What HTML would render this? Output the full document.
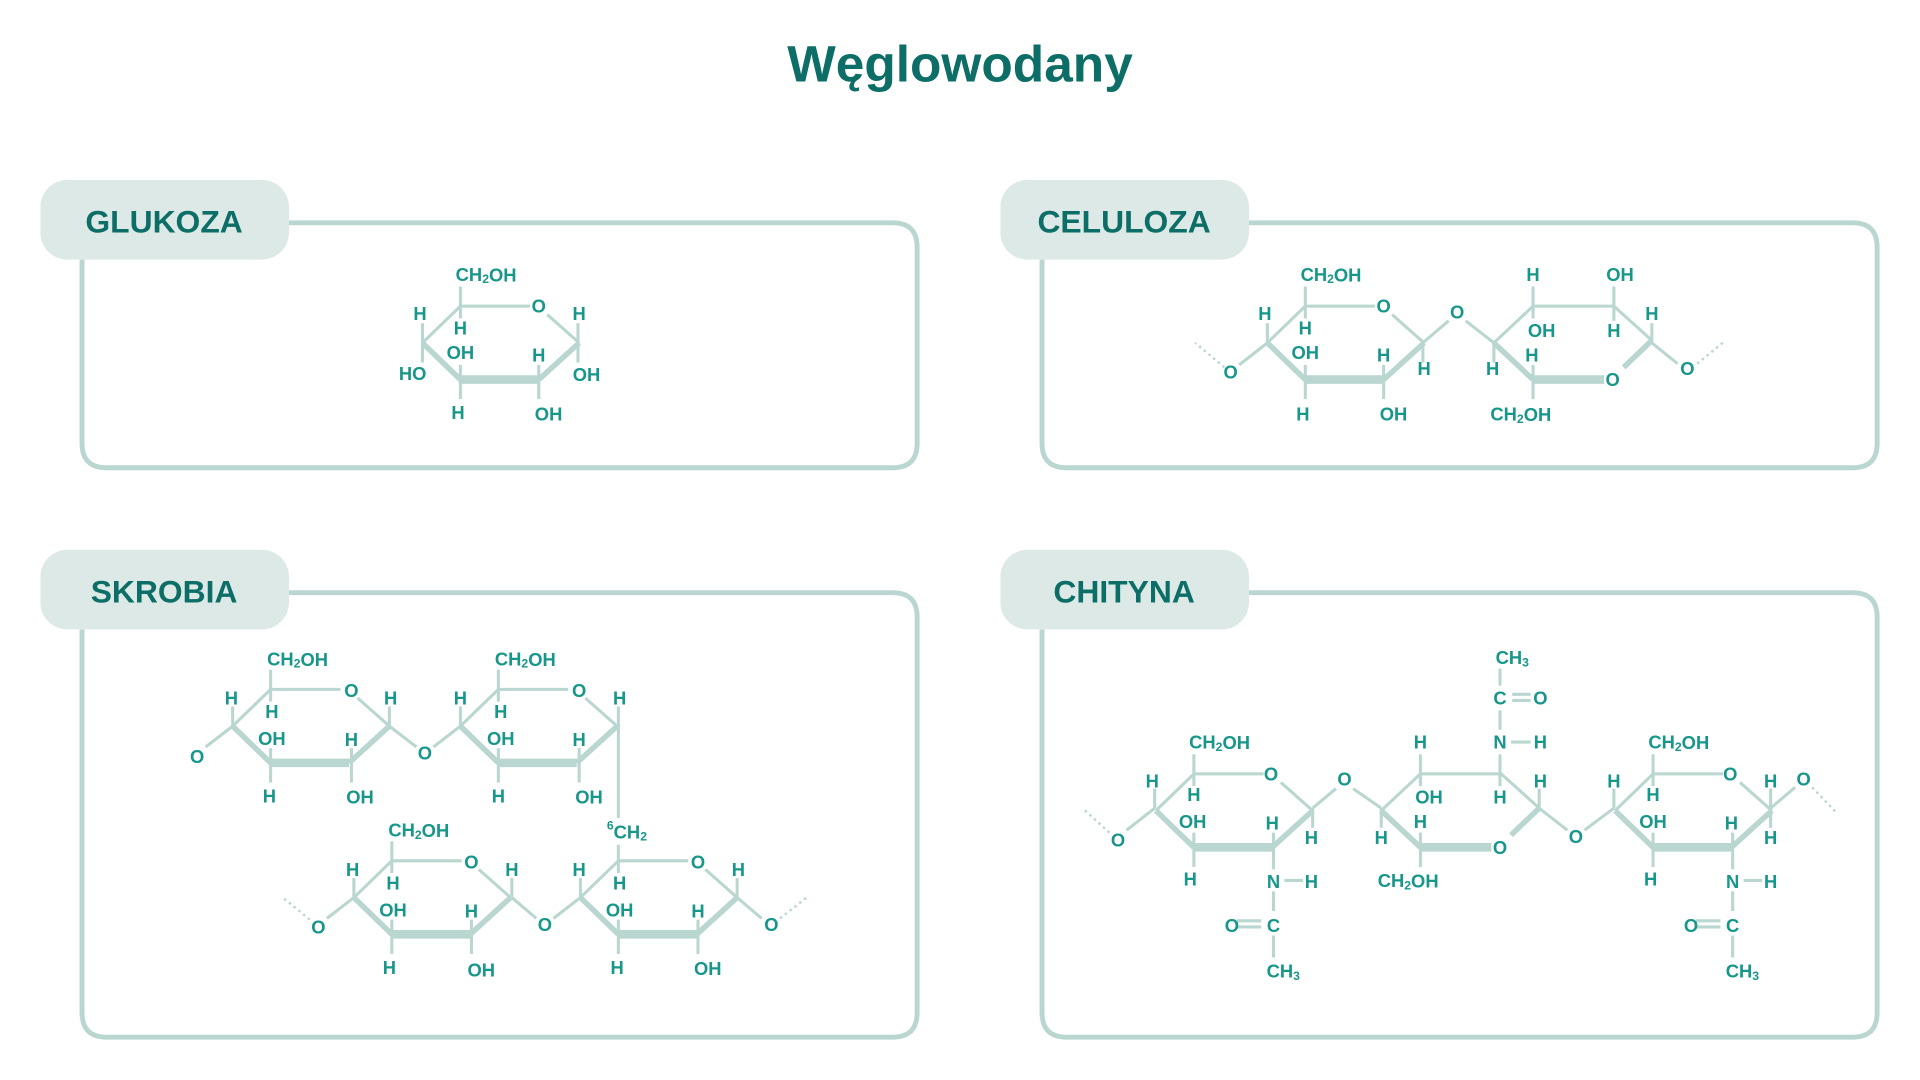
<!DOCTYPE html>
<html><head><meta charset="utf-8"><style>
html,body{margin:0;padding:0;background:#fff;}
svg{display:block;}
.t{font-family:"Liberation Sans",sans-serif;font-weight:bold;fill:#17968a;font-size:15px;text-anchor:middle;dominant-baseline:central;}
.s{font-size:10px;}
.lab{font-family:"Liberation Sans",sans-serif;font-weight:bold;fill:#0c6e66;font-size:26px;text-anchor:middle;dominant-baseline:central;}
.b{stroke:#bad6d0;fill:none;stroke-width:2.5;stroke-linecap:butt;}
.k{stroke:#bad6d0;fill:none;stroke-width:7;}
.m{stroke:#bad6d0;fill:none;stroke-width:4.5;}
.d{stroke:#bad6d0;fill:none;stroke-width:2;stroke-dasharray:2 3;}
.box{stroke:#bad6d0;fill:none;stroke-width:4;}
</style></head><body>
<svg width="1920" height="1080" viewBox="0 0 1568 882" preserveAspectRatio="none">
<defs>
<g id="r">
<path class="b" d="M0,0 L57,0 M71,7 L97,30 M0,0 L-31,30"/>
<path class="m" d="M-31,30 L0,60 M64,60 L97,30"/>
<path class="k" d="M0,60 L64,60"/>
</g>
<g id="f">
<path class="b" d="M0,0 L66,0 L97,28 M0,0 L-32,30"/>
<path class="m" d="M-32,30 L0,60 M97,28 L74,50"/>
<path class="k" d="M0,60 L58,60"/>
</g>
</defs>
<text x="784" y="52" class="lab" style="font-size:42px">Węglowodany</text>

<!-- boxes -->
<path class="box" d="M236,182 H729 Q749,182 749,202 V362 Q749,382 729,382 H87 Q67,382 67,362 V212"/>
<rect x="33" y="147" width="203" height="65" rx="22" fill="#dde9e6"/>
<text x="134" y="181" class="lab">GLUKOZA</text>
<path class="box" d="M1020,182 H1513 Q1533,182 1533,202 V362 Q1533,382 1513,382 H871 Q851,382 851,362 V212"/>
<rect x="817" y="147" width="203" height="65" rx="22" fill="#dde9e6"/>
<text x="918" y="181" class="lab">CELULOZA</text>
<path class="box" d="M236,484 H729 Q749,484 749,504 V827 Q749,847 729,847 H87 Q67,847 67,827 V514"/>
<rect x="33" y="449" width="203" height="65" rx="22" fill="#dde9e6"/>
<text x="134" y="483" class="lab">SKROBIA</text>
<path class="box" d="M1020,484 H1513 Q1533,484 1533,504 V827 Q1533,847 1513,847 H871 Q851,847 851,827 V514"/>
<rect x="817" y="449" width="203" height="65" rx="22" fill="#dde9e6"/>
<text x="918" y="483" class="lab">CHITYNA</text>

<!-- GLUKOZA -->
<use href="#r" x="376" y="250"/>
<path class="b" d="M376,250 V234 M345,280 V264 M345,280 V296 M376,250 V260 M376,310 V298 M376,310 V326 M440,310 V298 M440,310 V326 M472,280 V264 M472,280 V296"/>
<text class="t" x="397" y="224">CH<tspan class="s" dy="4">2</tspan><tspan dy="-4">OH</tspan></text>
<text class="t" x="440" y="250">O</text>
<text class="t" x="343" y="256">H</text><text class="t" x="376" y="268">H</text>
<text class="t" x="473" y="256">H</text><text class="t" x="337" y="305">HO</text>
<text class="t" x="376" y="288">OH</text><text class="t" x="440" y="290">H</text>
<text class="t" x="479" y="306">OH</text><text class="t" x="374" y="337">H</text>
<text class="t" x="448" y="338">OH</text>

<!-- CELULOZA -->
<use href="#r" x="1066" y="250"/>
<use href="#f" x="1252" y="250"/>
<path class="b" d="M1066,250 V234 M1035,280 V264 M1066,250 V260 M1066,310 V298 M1066,310 V326 M1130,310 V298 M1130,310 V326 M1162,280 V296 M1035,280 L1012,298 M1162,280 L1183,262 M1197,262 L1220,280 M1252,250 V234 M1318,250 V234 M1252,250 V260 M1318,250 V262 M1220,280 V296 M1252,310 V298 M1252,310 V326 M1349,280 V264 M1349,280 L1370,297"/>
<path class="d" d="M1000,300 L976,280 M1386,297 L1408,279"/>
<text class="t" x="1087" y="224">CH<tspan class="s" dy="4">2</tspan><tspan dy="-4">OH</tspan></text>
<text class="t" x="1130" y="250">O</text><text class="t" x="1190" y="255">O</text>
<text class="t" x="1033" y="256">H</text><text class="t" x="1066" y="268">H</text>
<text class="t" x="1066" y="288">OH</text><text class="t" x="1130" y="290">H</text>
<text class="t" x="1163" y="301">H</text><text class="t" x="1005" y="304">O</text>
<text class="t" x="1064" y="338">H</text><text class="t" x="1138" y="338">OH</text>
<text class="t" x="1252" y="224">H</text><text class="t" x="1323" y="224">OH</text>
<text class="t" x="1259" y="270">OH</text><text class="t" x="1318" y="270">H</text>
<text class="t" x="1349" y="256">H</text><text class="t" x="1219" y="301">H</text>
<text class="t" x="1251" y="290">H</text><text class="t" x="1317" y="310">O</text>
<text class="t" x="1378" y="301">O</text>
<text class="t" x="1242" y="338">CH<tspan class="s" dy="4">2</tspan><tspan dy="-4">OH</tspan></text>

<!-- SKROBIA -->
<use href="#r" x="221" y="563"/>
<use href="#r" x="407" y="563"/>
<use href="#r" x="320" y="703"/>
<use href="#r" x="505" y="703"/>
<path class="b" d="M221,563 V547 M190,593 V577 M221,563 V573 M221,623 V611 M221,623 V639 M287,623 V611 M287,623 V639 M318,593 V577 M190,593 L168,610 M318,593 L340,610 M354,610 L376,593
M407,563 V547 M376,593 V577 M407,563 V573 M407,623 V611 M407,623 V639 M473,623 V611 M473,623 V639 M505,593 V577 M505,593 V668
M320,703 V687 M289,733 V717 M320,703 V713 M320,763 V751 M320,763 V779 M385,763 V751 M385,763 V779 M418,733 V717 M289,733 L267,750 M418,733 L438,750 M452,750 L474,733
M505,703 V690 M474,733 V717 M505,703 V713 M505,763 V751 M505,763 V779 M570,763 V751 M570,763 V779 M602,733 V717 M602,733 L622,750"/>
<path class="d" d="M253,751 L231,733 M637,750 L660,732"/>
<text class="t" x="243" y="538">CH<tspan class="s" dy="4">2</tspan><tspan dy="-4">OH</tspan></text>
<text class="t" x="287" y="564">O</text><text class="t" x="189" y="570">H</text><text class="t" x="222" y="581">H</text>
<text class="t" x="319" y="570">H</text><text class="t" x="222" y="603">OH</text><text class="t" x="287" y="604">H</text>
<text class="t" x="161" y="618">O</text><text class="t" x="347" y="615">O</text>
<text class="t" x="220" y="650">H</text><text class="t" x="294" y="651">OH</text>
<text class="t" x="429" y="538">CH<tspan class="s" dy="4">2</tspan><tspan dy="-4">OH</tspan></text>
<text class="t" x="473" y="564">O</text><text class="t" x="376" y="570">H</text><text class="t" x="409" y="581">H</text>
<text class="t" x="506" y="570">H</text><text class="t" x="409" y="603">OH</text><text class="t" x="473" y="604">H</text>
<text class="t" x="407" y="650">H</text><text class="t" x="481" y="651">OH</text>
<text class="t" x="512" y="679"><tspan class="s" dy="-5">6</tspan><tspan dy="5">CH</tspan><tspan class="s" dy="4">2</tspan></text>
<text class="t" x="342" y="678">CH<tspan class="s" dy="4">2</tspan><tspan dy="-4">OH</tspan></text>
<text class="t" x="385" y="704">O</text><text class="t" x="288" y="710">H</text><text class="t" x="321" y="721">H</text>
<text class="t" x="418" y="710">H</text><text class="t" x="321" y="743">OH</text><text class="t" x="385" y="744">H</text>
<text class="t" x="260" y="757">O</text><text class="t" x="445" y="755">O</text>
<text class="t" x="318" y="790">H</text><text class="t" x="393" y="792">OH</text>
<text class="t" x="570" y="704">O</text><text class="t" x="473" y="710">H</text><text class="t" x="506" y="721">H</text>
<text class="t" x="603" y="710">H</text><text class="t" x="506" y="743">OH</text><text class="t" x="570" y="744">H</text>
<text class="t" x="630" y="755">O</text>
<text class="t" x="504" y="790">H</text><text class="t" x="578" y="791">OH</text>

<!-- CHITYNA -->
<use href="#r" x="975" y="632"/>
<use href="#f" x="1160" y="632"/>
<use href="#r" x="1350" y="632"/>
<path class="b" d="M975,632 V616 M943,660 V644 M975,632 V642 M975,692 V680 M975,692 V708 M1040,692 V680 M1040,692 V710 M1072,660 V676 M943,660 L920,678 M1072,660 L1091,644 M1105,644 L1128,660
M1160,632 V616 M1225,632 V616 M1160,632 V642 M1225,632 V642 M1257,660 V644 M1128,660 V676 M1160,692 V680 M1160,692 V708 M1257,660 L1280,678 M1294,678 L1318,660
M1225,596 V580 M1225,560 V546 M1234,606 H1250 M1235,567 H1250 M1235,572 H1250
M1040,728 V744 M1040,764 V782 M1049,719 H1064 M1010,752 H1030 M1010,757 H1030
M1350,632 V616 M1318,660 V644 M1350,632 V642 M1350,692 V680 M1350,692 V708 M1415,692 V680 M1415,692 V710 M1446,660 V644 M1446,660 V676 M1446,660 L1466,643
M1415,728 V744 M1415,764 V782 M1424,719 H1439 M1385,752 H1405 M1385,757 H1405"/>
<path class="d" d="M906,680 L884,660 M1480,643 L1500,664"/>
<text class="t" x="996" y="606">CH<tspan class="s" dy="4">2</tspan><tspan dy="-4">OH</tspan></text>
<text class="t" x="1038" y="632">O</text><text class="t" x="941" y="638">H</text><text class="t" x="975" y="649">H</text>
<text class="t" x="974" y="671">OH</text><text class="t" x="1039" y="672">H</text><text class="t" x="1071" y="684">H</text>
<text class="t" x="913" y="686">O</text><text class="t" x="1098" y="636">O</text>
<text class="t" x="972" y="718">H</text>
<text class="t" x="1040" y="720">N</text><text class="t" x="1071" y="720">H</text>
<text class="t" x="1006" y="756">O</text><text class="t" x="1040" y="756">C</text>
<text class="t" x="1048" y="793">CH<tspan class="s" dy="4">3</tspan></text>
<text class="t" x="1235" y="537">CH<tspan class="s" dy="4">3</tspan></text>
<text class="t" x="1225" y="570">C</text><text class="t" x="1258" y="570">O</text>
<text class="t" x="1225" y="606">N</text><text class="t" x="1258" y="606">H</text>
<text class="t" x="1160" y="606">H</text>
<text class="t" x="1167" y="651">OH</text><text class="t" x="1225" y="651">H</text><text class="t" x="1258" y="638">H</text>
<text class="t" x="1128" y="684">H</text><text class="t" x="1160" y="671">H</text>
<text class="t" x="1225" y="692">O</text><text class="t" x="1287" y="683">O</text>
<text class="t" x="1150" y="719">CH<tspan class="s" dy="4">2</tspan><tspan dy="-4">OH</tspan></text>
<text class="t" x="1371" y="606">CH<tspan class="s" dy="4">2</tspan><tspan dy="-4">OH</tspan></text>
<text class="t" x="1413" y="632">O</text><text class="t" x="1318" y="638">H</text><text class="t" x="1350" y="649">H</text>
<text class="t" x="1350" y="671">OH</text><text class="t" x="1414" y="672">H</text>
<text class="t" x="1446" y="638">H</text><text class="t" x="1446" y="684">H</text><text class="t" x="1473" y="636">O</text>
<text class="t" x="1348" y="718">H</text>
<text class="t" x="1415" y="720">N</text><text class="t" x="1446" y="720">H</text>
<text class="t" x="1381" y="756">O</text><text class="t" x="1415" y="756">C</text>
<text class="t" x="1423" y="793">CH<tspan class="s" dy="4">3</tspan></text>
</svg>
</body></html>
